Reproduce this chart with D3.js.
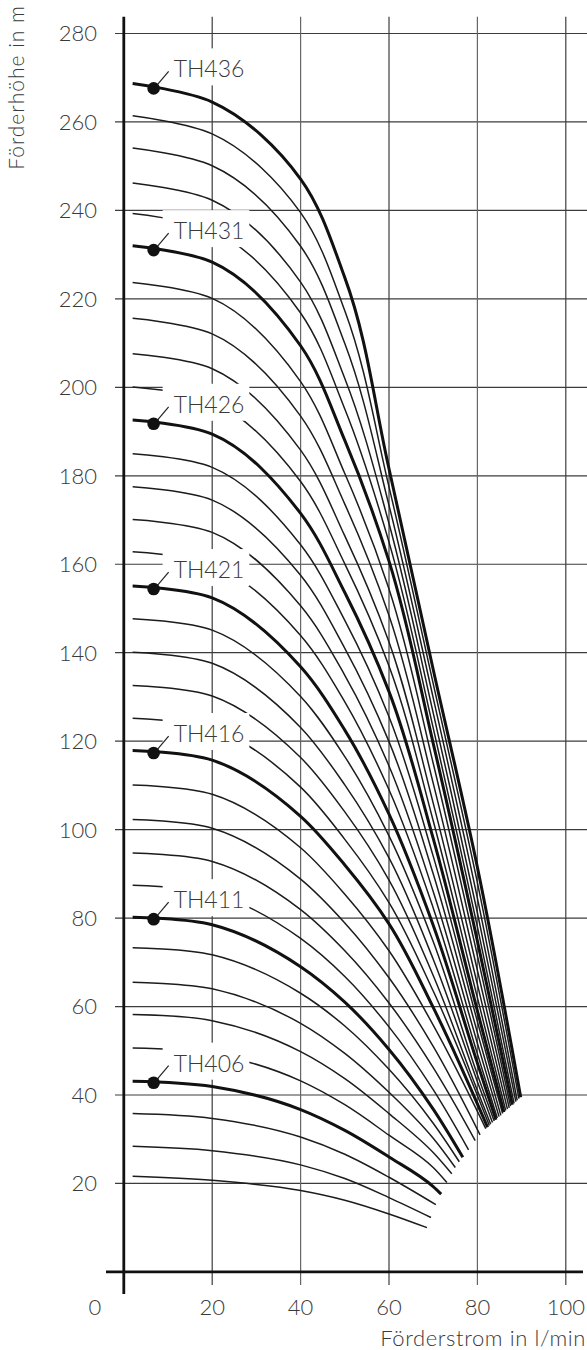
<!DOCTYPE html>
<html>
<head>
<meta charset="utf-8">
<script src="https://cdn.jsdelivr.net/npm/d3@7"></script>
<style>
  body { margin: 0; background: #fff; }
  svg { display: block; font-family: Lato, "Open Sans", sans-serif; }
  text { fill: #3a3a3a; font-weight: 300; }
</style>
</head>
<body>
<svg></svg>
<script>
let models = ["TH403", "TH404", "TH405", "TH406", "TH407", "TH408", "TH409", "TH410",
              "TH411", "TH412", "TH413", "TH414", "TH415", "TH416", "TH417", "TH418",
              "TH419", "TH420", "TH421", "TH422", "TH423", "TH424", "TH425", "TH426",
              "TH427", "TH428", "TH429", "TH430", "TH431", "TH432", "TH433", "TH434",
              "TH435", "TH436"];
let labelledModels = ["TH406", "TH411", "TH416", "TH421", "TH426", "TH431", "TH436"];

// flow (l/min) where heads were read; each curve uses the ones below its end
let flowGrid = [2, 20, 40, 50, 60, 70, 80];
let headValues = [
  [21.6, 20.7, 18.4, 16.2, 13.1],
  [28.4, 27.4, 24.2, 21.1, 16.8],
  [35.8, 34.7, 30.5, 26.6, 21.4],
  [43.1, 41.9, 36.7, 32.0, 26.0, 19.3],
  [50.6, 49.3, 43.2, 37.8, 30.9, 23.6],
  [58.2, 56.8, 49.8, 43.7, 35.8, 27.0],
  [65.5, 64.0, 56.2, 49.4, 40.6, 30.2],
  [73.3, 71.7, 63.0, 55.6, 45.8, 33.6],
  [80.2, 78.5, 69.0, 61.0, 50.3, 36.8],
  [87.4, 85.6, 75.4, 66.8, 55.4, 41.2],
  [94.7, 92.8, 81.9, 72.6, 60.8, 46.2],
  [102.3, 100.3, 88.8, 78.9, 66.5, 51.0],
  [110.1, 108.0, 95.9, 85.4, 72.6, 55.8],
  [117.9, 115.7, 103.0, 92.0, 78.7, 59.8],
  [125.2, 122.9, 109.6, 97.8, 83.5, 63.5],
  [132.6, 130.2, 116.3, 104.0, 88.6, 67.0, 41.0],
  [140.1, 137.6, 123.1, 110.1, 93.6, 70.7, 43.0],
  [147.7, 145.1, 130.1, 116.5, 98.6, 74.7, 44.6],
  [155.1, 152.4, 136.8, 122.5, 103.5, 78.4, 47.2],
  [162.8, 160.0, 143.9, 128.9, 109.0, 82.3, 49.3],
  [170.1, 167.2, 150.6, 134.9, 114.4, 86.0, 51.7],
  [177.5, 174.5, 157.5, 141.0, 119.9, 90.0, 54.1],
  [185.0, 181.9, 164.4, 147.3, 125.5, 94.0, 56.6],
  [192.6, 189.4, 171.5, 153.6, 131.2, 98.0, 59.0],
  [200.1, 196.8, 178.7, 160.1, 137.0, 102.0, 62.0],
  [207.6, 204.2, 185.8, 166.4, 142.4, 106.0, 65.0],
  [215.6, 212.1, 193.5, 173.6, 148.4, 110.5, 68.2],
  [223.7, 220.1, 201.3, 180.5, 154.4, 115.0, 71.5],
  [232.0, 228.3, 209.4, 188.0, 160.7, 119.5, 74.8],
  [239.3, 235.5, 216.8, 195.1, 165.0, 123.0, 78.0],
  [246.2, 242.3, 223.8, 202.0, 169.2, 126.4, 81.2],
  [254.1, 250.1, 231.9, 209.9, 173.3, 129.8, 84.5],
  [261.4, 257.3, 239.5, 217.3, 177.5, 133.0, 88.0],
  [268.7, 264.5, 247.1, 224.8, 181.6, 136.2, 91.5]
];
let endFlow = [68.6, 69.5, 70.6, 71.8, 73.1, 74.2, 75.0, 75.9, 76.7, 78.0, 79.5, 80.6,
               81.9, 82.3, 82.7, 83.0, 83.4, 83.8, 84.2, 84.5, 84.9, 85.3, 85.7, 86.0,
               86.4, 86.8, 87.2, 87.5, 87.9, 88.3, 88.7, 89.0, 89.4, 89.8];
let endHead = [10.0, 12.3, 15.2, 17.6, 20.2, 22.2, 23.6, 24.9, 25.9, 27.6, 29.7, 31.0,
               32.4, 32.7, 33.1, 33.4, 33.8, 34.1, 34.4, 34.8, 35.1, 35.4, 35.8, 36.1,
               36.5, 36.8, 37.1, 37.5, 37.8, 38.1, 38.5, 38.8, 39.2, 39.5];
let markerFlow = 6.75;

let headTicks = [20, 40, 60, 80, 100, 120, 140, 160, 180, 200, 220, 240, 260, 280];
let flowTicks = [20, 40, 60, 80, 100];
let flowLabels = [0, 20, 40, 60, 80, 100];

let svgWidth = 587, svgHeight = 1350;

let svg = d3.select('svg')
            .attr('width', svgWidth)
            .attr('height', svgHeight);

let xScale = d3.scaleLinear().domain([0, 100]).range([123.8, 565.8]);
let yScale = d3.scaleLinear().domain([0, 280]).range([1271.9, 33.5]);

let curves = models.map((name, i) => {
    let pts = headValues[i].map((h, k) => [flowGrid[k], h]);
    pts.push([endFlow[i], endHead[i]]);
    return { name: name, points: pts, heavy: labelledModels.includes(name) };
});

// grid
svg.append('g').selectAll('line')
    .data(headTicks)
    .enter()
    .append('line')
    .attr('x1', 115).attr('x2', svgWidth)
    .attr('y1', d => yScale(d)).attr('y2', d => yScale(d))
    .attr('stroke', '#3c3c3c').attr('stroke-width', 1.2);

svg.append('g').selectAll('line')
    .data(flowTicks)
    .enter()
    .append('line')
    .attr('x1', d => xScale(d)).attr('x2', d => xScale(d))
    .attr('y1', 16.7).attr('y2', 1285)
    .attr('stroke', (d) => d % 40 == 0 ? '#666' : '#3c3c3c')
    .attr('stroke-width', 1.2);

let line = d3.line()
    .x(d => xScale(d[0]))
    .y(d => yScale(d[1]))
    .curve(d3.curveCatmullRom.alpha(1));

svg.append('g').selectAll('path')
    .data(curves.filter(c => !c.heavy))
    .enter()
    .append('path')
    .attr('d', d => line(d.points))
    .attr('fill', 'none')
    .attr('stroke', '#1c1c1c')
    .attr('stroke-width', 1.5);

let markerHead = (c) => {
    let a = c.points[0], b = c.points[1];
    return a[1] + (b[1] - a[1]) * (markerFlow - a[0]) / (b[0] - a[0]);
};

let labels = svg.append('g').selectAll('g')
    .data(curves.filter(c => c.heavy))
    .enter()
    .append('g');

labels.append('rect').attr('fill', '#fff');
labels.append('text')
    .attr('x', xScale(markerFlow) + 20)
    .attr('y', d => yScale(markerHead(d)) - 11)
    .attr('font-size', 23)
    .text(d => d.name);
labels.select('rect').each(function(d) {
    let t = d3.select(this.parentNode).select('text');
    let w = t.node().getComputedTextLength();
    let tx = +t.attr('x'), ty = +t.attr('y');
    d3.select(this)
        .attr('x', tx - 11).attr('y', ty - 29)
        .attr('width', w + 16).attr('height', 37);
});

svg.append('g').selectAll('path')
    .data(curves.filter(c => c.heavy))
    .enter()
    .append('path')
    .attr('d', d => line(d.points))
    .attr('fill', 'none')
    .attr('stroke', '#111')
    .attr('stroke-width', 3);

svg.append('g').selectAll('line')
    .data(curves.filter(c => c.heavy))
    .enter()
    .append('line')
    .attr('x1', xScale(markerFlow) + 4)
    .attr('y1', d => yScale(markerHead(d)) - 4)
    .attr('x2', xScale(markerFlow) + 15)
    .attr('y2', d => yScale(markerHead(d)) - 17)
    .attr('stroke', '#222').attr('stroke-width', 1.2);

svg.append('g').selectAll('circle')
    .data(curves.filter(c => c.heavy))
    .enter()
    .append('circle')
    .attr('cx', xScale(markerFlow))
    .attr('cy', d => yScale(markerHead(d)))
    .attr('r', 6.3)
    .attr('fill', '#111');

// axes
svg.append('line')
    .attr('x1', xScale(0)).attr('x2', xScale(0))
    .attr('y1', 16.7).attr('y2', 1294)
    .attr('stroke', '#111').attr('stroke-width', 2.8);
svg.append('line')
    .attr('x1', 106).attr('x2', 583)
    .attr('y1', yScale(0)).attr('y2', yScale(0))
    .attr('stroke', '#111').attr('stroke-width', 2.8);

svg.append('g').selectAll('text')
    .data(headTicks)
    .enter()
    .append('text')
    .attr('x', 97)
    .attr('y', d => yScale(d))
    .attr('dy', '0.36em')
    .attr('text-anchor', 'end')
    .attr('font-size', 22)
    .text(d => d);

svg.append('g').selectAll('text')
    .data(flowLabels)
    .enter()
    .append('text')
    .attr('x', d => d == 0 ? 95 : xScale(d))
    .attr('y', 1307)
    .attr('dy', '0.36em')
    .attr('text-anchor', 'middle')
    .attr('font-size', 22)
    .text(d => d);

svg.append('text')
    .attr('x', 586).attr('y', 1346)
    .attr('text-anchor', 'end')
    .attr('font-size', 22)
    .attr('letter-spacing', 0.6)
    .text('Förderstrom in l/min');

svg.append('text')
    .attr('transform', 'translate(24,5) rotate(-90)')
    .attr('text-anchor', 'end')
    .attr('font-size', 21)
    .attr('letter-spacing', 1)
    .text('Förderhöhe in m');
</script>
</body>
</html>
